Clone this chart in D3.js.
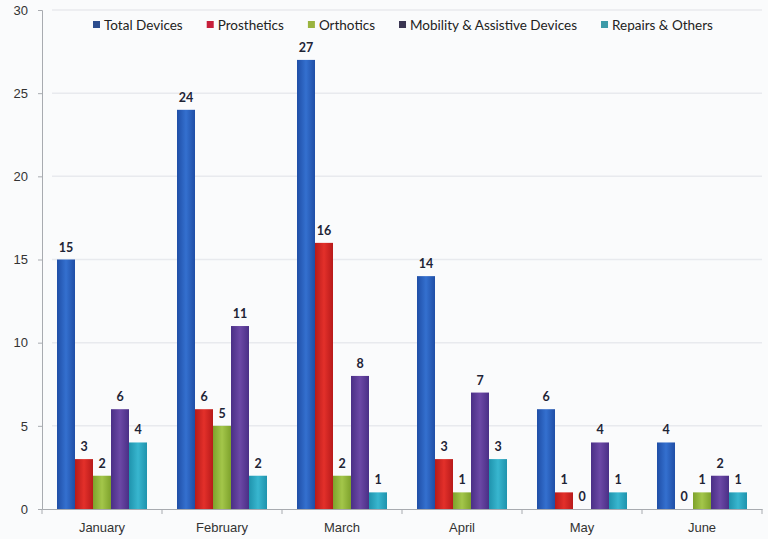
<!DOCTYPE html>
<html>
<head>
<meta charset="utf-8">
<script src="https://cdn.jsdelivr.net/npm/d3@7"></script>
<style>
  body { margin: 0; background: #fafbfc; }
  svg { display: block; font-family: Lato, "Open Sans", sans-serif; }
</style>
</head>
<body>
<div id="chart"></div>
<script>
const width = 768;
const height = 539;

const months = ["January", "February", "March", "April", "May", "June"];
const seriesNames = ["Total Devices", "Prosthetics", "Orthotics", "Mobility & Assistive Devices", "Repairs & Others"];
const totalDevices = [15, 24, 27, 14, 6, 4];
const prosthetics = [3, 6, 16, 3, 1, 0];
const orthotics = [2, 5, 2, 1, 0, 1];
const mobility = [6, 11, 8, 7, 4, 2];
const repairs = [4, 2, 1, 3, 1, 1];
const yTicks = [0, 5, 10, 15, 20, 25, 30];

const seriesValues = [totalDevices, prosthetics, orthotics, mobility, repairs];
// bar gradient: edge, middle
const barColors = [["#1f4ea6", "#3470cf"], ["#b81a1a", "#e3302a"], ["#7ea22c", "#a3c64a"], ["#4a2f86", "#6c48a6"], ["#1f93ad", "#38b6cf"]];
const legendColors = ["#2c4d8e", "#c61f3a", "#9ab43f", "#3a3552", "#3c9aa8"];

const margin = {top: 10, right: 6, bottom: 30, left: 42};

const svg = d3.select("#chart").append("svg")
    .attr("width", width)
    .attr("height", height);

const defs = svg.append("defs");
barColors.forEach((c, i) => {
    const g = defs.append("linearGradient")
        .attr("id", "grad" + i)
        .attr("x1", "0").attr("x2", "1").attr("y1", "0").attr("y2", "0");
    g.append("stop").attr("offset", "0%").attr("stop-color", c[0]);
    g.append("stop").attr("offset", "50%").attr("stop-color", c[1]);
    g.append("stop").attr("offset", "100%").attr("stop-color", c[0]);
});

const y = d3.scaleLinear()
    .domain([0, 30])
    .range([height - margin.bottom, margin.top]);

const x0 = d3.scaleBand()
    .domain(months)
    .range([margin.left, width - margin.right]);

const x1 = d3.scaleBand()
    .domain(d3.range(seriesNames.length))
    .range([15, x0.bandwidth() - 15]);

// gridlines
svg.append("g")
    .selectAll("line")
    .data(yTicks.filter(d => d > 0))
    .join("line")
    .attr("x1", margin.left + 10)
    .attr("x2", width - margin.right)
    .attr("y1", d => y(d))
    .attr("y2", d => y(d))
    .style("stroke", "#e8eaee")
    .style("stroke-width", 1.5);

// y axis
const yAxis = svg.append("g")
    .attr("transform", `translate(${margin.left},0)`)
    .call(d3.axisLeft(y).tickValues(yTicks).tickSize(4).tickPadding(10));
yAxis.select(".domain").style("stroke", "#a8abb0");
yAxis.selectAll(".tick line").style("stroke", "#a8abb0");
yAxis.selectAll("text").style("font-size", "13px").style("fill", "#333");

// x axis
const xAxis = svg.append("g")
    .attr("transform", `translate(0,${y(0)})`)
    .call(d3.axisBottom(x0).tickSize(0).tickPadding(14));
xAxis.select(".domain").style("stroke", "#a8abb0");
xAxis.selectAll("text").style("font-size", "13px").style("fill", "#333");
xAxis.append("g")
    .selectAll("line")
    .data(months.concat(["end"]))
    .join("line")
    .attr("x1", (d, i) => margin.left + i * x0.bandwidth())
    .attr("x2", (d, i) => margin.left + i * x0.bandwidth())
    .attr("y1", 0)
    .attr("y2", 5)
    .style("stroke", "#a8abb0");

// bars
const groups = svg.append("g")
    .selectAll("g")
    .data(months)
    .join("g")
    .attr("transform", d => `translate(${x0(d)},0)`);

groups.selectAll("rect")
    .data((m, mi) => seriesValues.map((s, si) => ({si: si, v: s[mi]})))
    .join("rect")
    .attr("x", d => x1(d.si))
    .attr("width", x1.bandwidth())
    .attr("y", d => y(d.v))
    .attr("height", d => y(0) - y(d.v))
    .style("fill", d => "url(#grad" + d.si + ")");

groups.selectAll("text")
    .data((m, mi) => seriesValues.map((s, si) => ({si: si, v: s[mi]})))
    .join("text")
    .attr("x", d => x1(d.si) + x1.bandwidth() / 2)
    .attr("y", d => y(d.v) - 8)
    .attr("text-anchor", "middle")
    .style("font-size", "12.5px")
    .style("font-weight", "bold")
    .style("fill", "#1e2436")
    .text(d => d.v);

// legend
const legend = svg.append("g").attr("transform", "translate(93,25)");
let lx = 0;
seriesNames.forEach((name, i) => {
    const item = legend.append("g").attr("transform", `translate(${lx},0)`);
    item.append("rect")
        .attr("x", 0).attr("y", -4)
        .attr("width", 7).attr("height", 7)
        .style("fill", legendColors[i]);
    const t = item.append("text")
        .attr("x", 11)
        .attr("y", 5)
        .style("font-size", "13.5px")
        .style("fill", "#222")
        .text(name);
    lx += 11 + t.node().getComputedTextLength() + 24;
});
</script>
</body>
</html>
